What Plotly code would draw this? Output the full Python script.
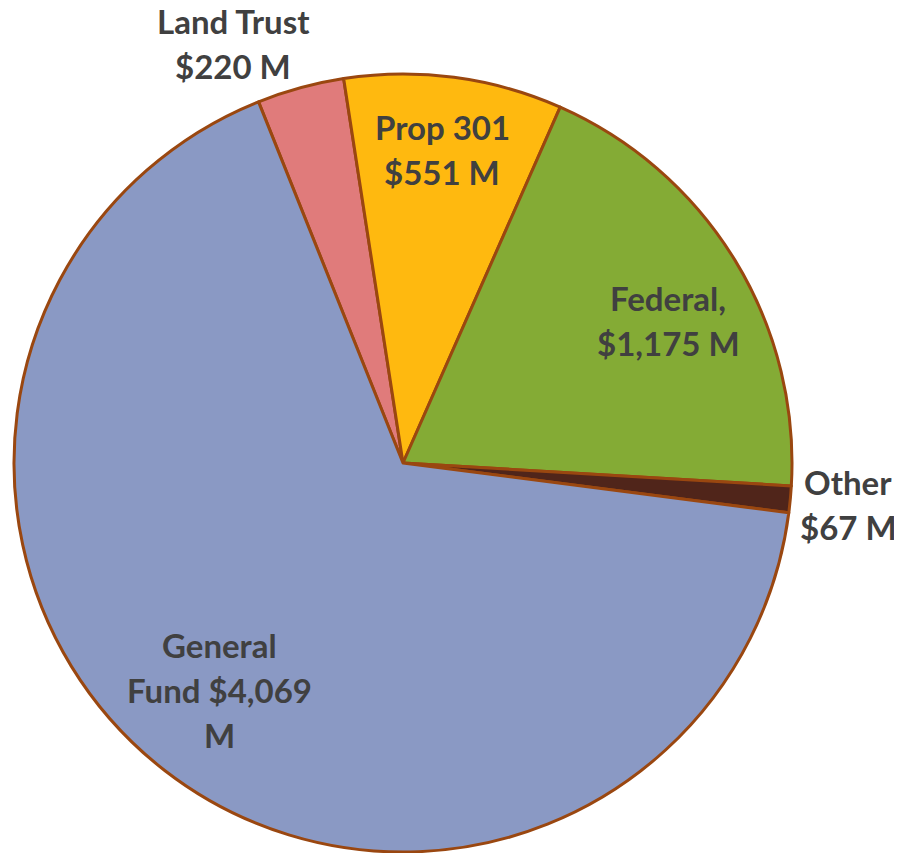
import plotly.graph_objects as go

W, H = 902, 853
OFF = 8  # page body margin offset

labels = ["Land Trust", "Prop 301", "Federal", "Other", "General Fund"]
values = [220, 551, 1175, 67, 4069]
colors = ["#E07B7B", "#FFB90F", "#84AB35", "#50251A", "#8A99C4"]

# label text lines as shown on the chart
label_lines = [
    ["Land Trust", "$220 M"],
    ["Prop 301", "$551 M"],
    ["Federal,", "$1,175 M"],
    ["Other", "$67 M"],
    ["General", "Fund $4,069", "M"],
]
# label anchor (pixel centre of first line), line spacing
label_pos = [(233, 21), (442, 127), (668, 298), (848, 482), (219, 645)]
line_gap = 45

cx, cy, r = 403 - OFF, 463 - OFF, 389
fig = go.Figure(go.Pie(
    labels=labels,
    values=values,
    sort=False,
    direction="clockwise",
    rotation=-21.8,
    marker=dict(colors=colors, line=dict(color="#9A4710", width=3)),
    textinfo="none",
    hoverinfo="label+value",
    showlegend=False,
    domain=dict(x=[(cx - r) / W, (cx + r) / W], y=[1 - (cy + r) / H, 1 - (cy - r) / H]),
))

anns = []
for lines, (px, py) in zip(label_lines, label_pos):
    for i, t in enumerate(lines):
        anns.append(dict(
            x=(px - OFF) / W, y=1 - (py - OFF + i * line_gap) / H, xref="paper", yref="paper",
            text=f"<b>{t}</b>", showarrow=False, xanchor="center", yanchor="middle",
            borderpad=0,
            font=dict(family="Lato", size=33, color="#404040"),
        ))

fig.update_layout(
    width=W, height=H,
    margin=dict(l=0, r=0, t=0, b=0),
    paper_bgcolor="white",
    annotations=anns,
)
fig.write_html("out.html")
